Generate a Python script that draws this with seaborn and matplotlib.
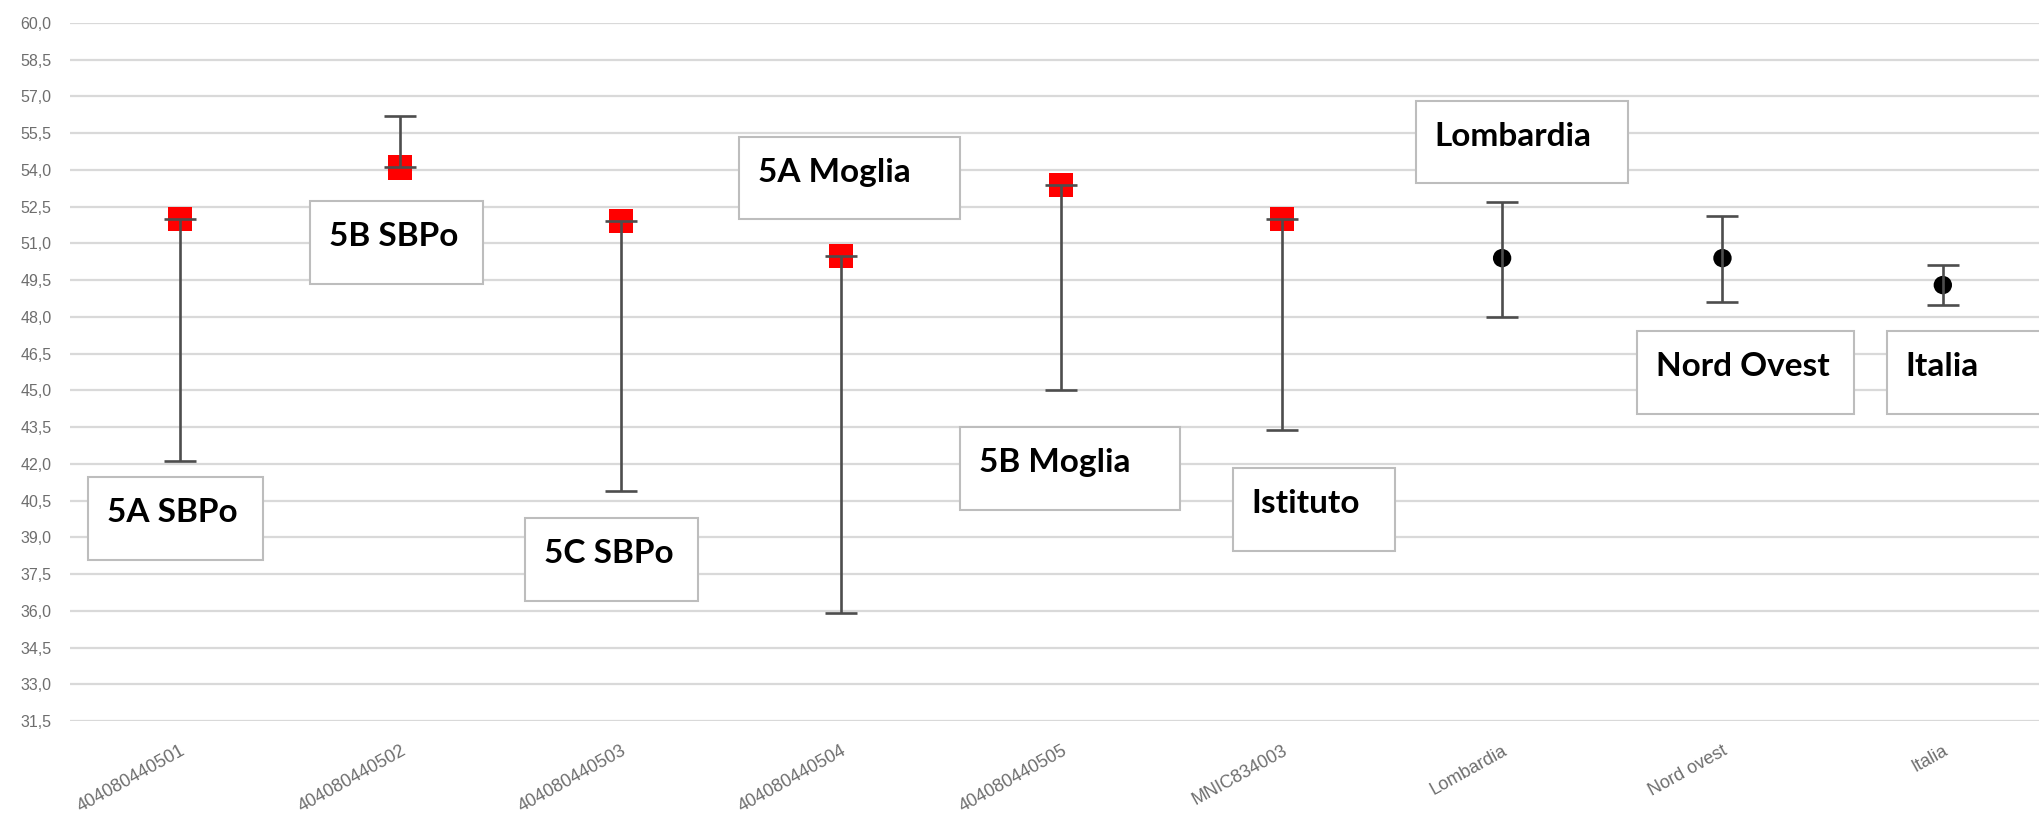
import numpy as np
import pandas as pd
import matplotlib
matplotlib.use("Agg")
import matplotlib.pyplot as plt
import seaborn as sns
from matplotlib.patches import Rectangle

# ---------------- data ----------------
categories = ['404080440501', '404080440502', '404080440503', '404080440504',
              '404080440505', 'MNIC834003', 'Lombardia', 'Nord ovest', 'Italia']
means = [52.0, 54.1, 51.9, 50.5, 53.4, 52.0, 50.4, 50.4, 49.3]
lower = [42.1, 54.1, 40.9, 35.9, 45.0, 43.4, 48.0, 48.6, 48.5]
upper = [52.0, 56.2, 51.9, 50.5, 53.4, 52.0, 52.7, 52.1, 50.1]
groups = ['Scuola'] * 6 + ['Riferimento'] * 3

yticks = [31.5, 33.0, 34.5, 36.0, 37.5, 39.0, 40.5, 42.0, 43.5, 45.0,
          46.5, 48.0, 49.5, 51.0, 52.5, 54.0, 55.5, 57.0, 58.5, 60.0]

# annotation boxes: label, left x (category units), top y, width (category units)
box_labels = ['5A SBPo', '5B SBPo', '5C SBPo', '5A Moglia', '5B Moglia',
              'Istituto', 'Lombardia', 'Nord Ovest', 'Italia']
box_x0 = [-0.417, 0.590, 1.565, 2.536, 3.539, 4.778, 5.608, 6.611, 7.745]
box_top = [41.46, 52.73, 39.79, 55.35, 43.50, 41.83, 56.82, 47.42, 47.42]
box_w = [0.794, 0.785, 0.785, 1.003, 0.998, 0.735, 0.962, 0.984, 0.90]
box_h = 3.37

df = pd.DataFrame({'cat': categories, 'mean': means, 'low': lower,
                   'high': upper, 'group': groups})

# ---------------- figure ----------------
sns.set_theme(style='white')
plt.rcParams['font.family'] = ['Liberation Sans', 'DejaVu Sans']

fig = plt.figure(figsize=(20.4, 8.13), dpi=100)
ax = fig.add_axes([69.8 / 2040, 1 - 721 / 813, (2053 - 69.8) / 2040, (721 - 23) / 813])

# gridlines
ax.set_yticks(yticks)
ax.set_yticklabels([f"{v:.1f}".replace('.', ',') for v in yticks])
ax.yaxis.grid(True, color='#d9d9d9', linewidth=1.6, zorder=0)
ax.xaxis.grid(False)
ax.set_axisbelow(True)

# markers via seaborn
sns.scatterplot(data=df, x='cat', y='mean', hue='group', style='group',
                palette={'Scuola': '#ff0000', 'Riferimento': '#000000'},
                markers={'Scuola': 's', 'Riferimento': 'o'},
                size='group', sizes={'Scuola': 300, 'Riferimento': 175},
                linewidth=0, legend=False, ax=ax, zorder=3)

# error bars (drawn on top, as in the reference)
xpos = np.arange(len(categories))
yerr = np.array([np.array(means) - np.array(lower), np.array(upper) - np.array(means)])
ax.errorbar(xpos, means, yerr=yerr, fmt='none', ecolor='#4d4d4d',
            elinewidth=1.9, capsize=11.5, capthick=1.9, zorder=4)

ax.set_xlim(-0.5, 8.5)
ax.set_ylim(31.5, 60.0)
ax.set_xlabel('')
ax.set_ylabel('')
for s in ax.spines.values():
    s.set_visible(False)

ax.tick_params(axis='y', length=0, pad=13, labelsize=11.5, labelcolor='#6e6e6e')
ax.tick_params(axis='x', length=0, pad=15, labelsize=13, labelcolor='#6e6e6e')
ax.set_xticks(xpos)
ax.set_xticklabels(categories, rotation=29, ha='right', rotation_mode='anchor')

# annotation boxes
for lab, x0, top, w in zip(box_labels, box_x0, box_top, box_w):
    rect = Rectangle((x0, top - box_h), w, box_h, facecolor='white',
                     edgecolor='#bdbdbd', linewidth=1.5, zorder=5, clip_on=False)
    ax.add_patch(rect)
    ax.annotate(lab, xy=(x0, top), xytext=(19, -45), textcoords='offset pixels',
                ha='left', va='baseline', fontsize=24, fontweight='bold',
                family=['Lato', 'DejaVu Sans'], color='black', zorder=6)

fig.savefig('out.png', dpi=100, facecolor='white')
